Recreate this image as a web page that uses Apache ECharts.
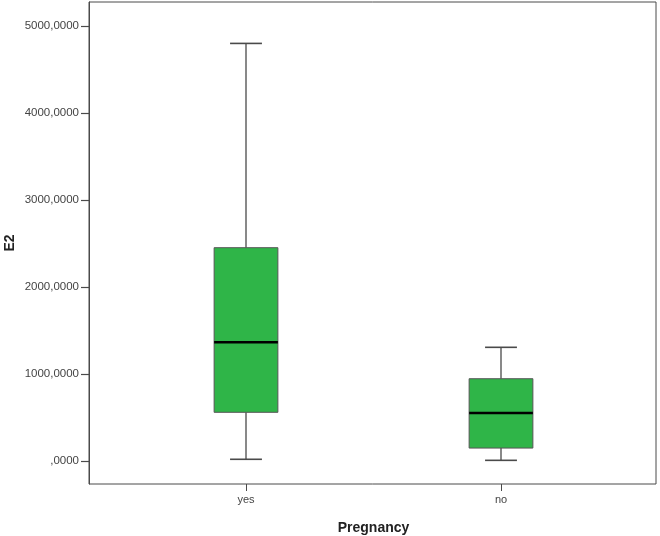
<!DOCTYPE html>
<html>
<head>
<meta charset="utf-8">
<script src="https://cdn.jsdelivr.net/npm/echarts@6/dist/echarts.min.js"></script>
<style>html,body{margin:0;padding:0;background:#fff;}#c{width:660px;height:536px;}</style>
</head>
<body>
<div id="c"></div>
<script>
var categories = ['yes', 'no'];
// [lower whisker, Q1, median, Q3, upper whisker]
var lowWhisker = [20, 8];
var q1 = [560, 149];
var medians = [1364, 552];
var q3 = [2452, 946];
var highWhisker = [4800, 1307];
var yTicks = [0, 1000, 2000, 3000, 4000, 5000];

var boxData = categories.map(function (c, i) {
  return [i, lowWhisker[i], q1[i], medians[i], q3[i], highWhisker[i]];
});

var lineCol = '#4a4a4a';
var fillCol = '#2fb548';

var chart = echarts.init(document.getElementById('c'), null, {renderer: 'canvas'});
chart.setOption({
  animation: false,
  backgroundColor: '#fff',
  grid: [
    {left: 89, top: 2, width: 567, height: 482, show: true, borderColor: lineCol, borderWidth: 1, backgroundColor: 'transparent', containLabel: false, outerBoundsMode: 'none'},
    {left: 118.5, top: 2, width: 510, height: 482, show: false, containLabel: false, outerBoundsMode: 'none'}
  ],
  xAxis: [
    {gridIndex: 0, type: 'value', min: 0, max: 1, show: false},
    {gridIndex: 1, type: 'category', data: categories, boundaryGap: true, position: 'bottom',
      axisLine: {show: false, onZero: false},
      axisTick: {show: true, alignWithLabel: true, length: 7, lineStyle: {color: lineCol}},
      axisLabel: {color: '#444', fontFamily: 'Liberation Sans, Arial, sans-serif', fontSize: 11, margin: 10},
      name: 'Pregnancy', nameLocation: 'middle', nameGap: 37, nameMoveOverlap: false,
      nameTextStyle: {fontFamily: 'Liberation Sans, Arial, sans-serif', fontWeight: 'bold', fontSize: 14, color: '#222'}
    }
  ],
  yAxis: [
    {gridIndex: 0, type: 'value', min: -264, max: 5276,
      axisLine: {show: true, lineStyle: {color: lineCol}},
      axisTick: {show: true, length: 8, customValues: yTicks, lineStyle: {color: lineCol, width: 1.2}},
      axisLabel: {customValues: yTicks, color: '#444', fontFamily: 'Liberation Sans, Arial, sans-serif', fontSize: 11.5, margin: 10,
        formatter: function (v) { return (v === 0 ? '' : String(v)) + ',0000'; }},
      splitLine: {show: false},
      name: 'E2', nameLocation: 'middle', nameGap: 72, nameRotate: 90, nameMoveOverlap: false,
      nameTextStyle: {fontFamily: 'Liberation Sans, Arial, sans-serif', fontWeight: 'bold', fontSize: 14, color: '#222'}
    },
    {gridIndex: 1, type: 'value', min: -264, max: 5276, show: false}
  ],
  series: [{
    type: 'custom',
    xAxisIndex: 1, yAxisIndex: 1,
    data: boxData,
    encode: {x: 0, y: [1, 2, 3, 4, 5]},
    renderItem: function (params, api) {
      var idx = api.value(0);
      var band = api.size([1, 0])[0];
      var bw = band * 0.25;
      var cw = bw / 2;
      var pLow = api.coord([idx, api.value(1)]);
      var pQ1 = api.coord([idx, api.value(2)]);
      var pMed = api.coord([idx, api.value(3)]);
      var pQ3 = api.coord([idx, api.value(4)]);
      var pHigh = api.coord([idx, api.value(5)]);
      var x = pMed[0];
      var ls = {stroke: lineCol, lineWidth: 1.3};
      return {
        type: 'group',
        children: [
          {type: 'line', shape: {x1: x, y1: pHigh[1], x2: x, y2: pQ3[1]}, style: ls},
          {type: 'line', shape: {x1: x, y1: pQ1[1], x2: x, y2: pLow[1]}, style: ls},
          {type: 'line', shape: {x1: x - cw / 2, y1: pHigh[1], x2: x + cw / 2, y2: pHigh[1]}, style: {stroke: lineCol, lineWidth: 1.6}},
          {type: 'line', shape: {x1: x - cw / 2, y1: pLow[1], x2: x + cw / 2, y2: pLow[1]}, style: {stroke: lineCol, lineWidth: 1.6}},
          {type: 'rect', shape: {x: x - bw / 2, y: pQ3[1], width: bw, height: pQ1[1] - pQ3[1]},
            style: {fill: fillCol, stroke: '#555', lineWidth: 1}},
          {type: 'line', shape: {x1: x - bw / 2, y1: pMed[1], x2: x + bw / 2, y2: pMed[1]}, style: {stroke: '#000', lineWidth: 2.5}}
        ]
      };
    }
  }]
});
</script>
</body>
</html>
